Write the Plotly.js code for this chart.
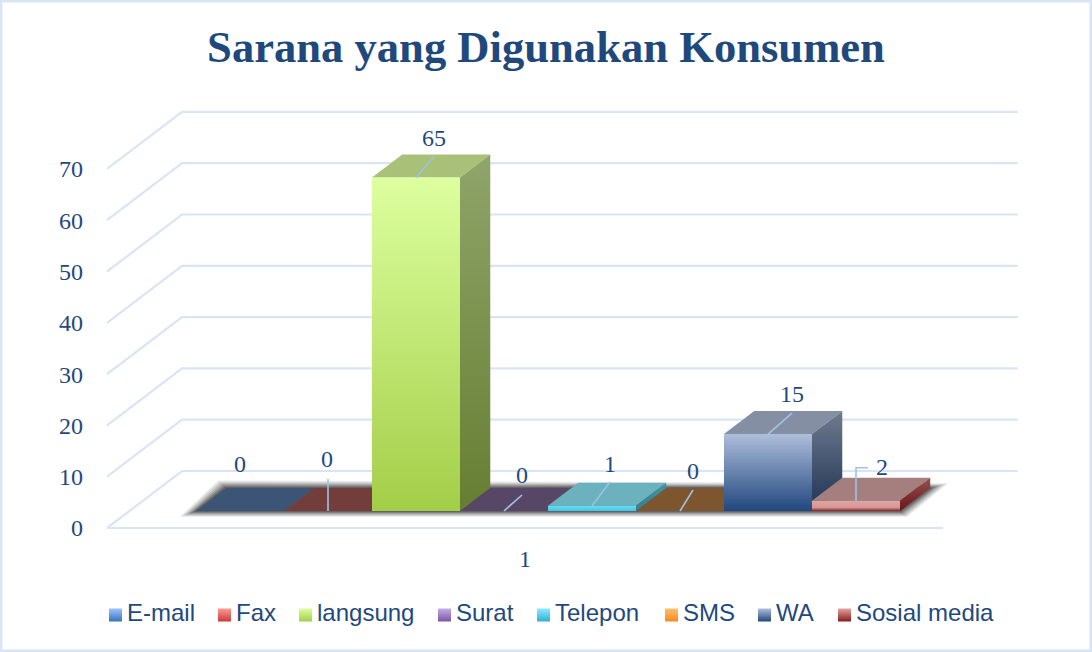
<!DOCTYPE html>
<html><head><meta charset="utf-8">
<script src="https://cdn.plot.ly/plotly-3.0.1.min.js"></script>
<style>html,body{margin:0;padding:0;background:#fff}#c{width:1092px;height:652px}</style>
</head><body><div id="c"></div>
<script>
// ---- data ----
const titleText = 'Sarana yang Digunakan Konsumen';
const categories = ['E-mail','Fax','langsung','Surat','Telepon','SMS','WA','Sosial media'];
const values = [0,0,65,0,1,0,15,2];
const yTicks = [0,10,20,30,40,50,60,70];
const xTickLabels = ['1'];
// ---- styles ----
const frontTop  = ['#8DB3F0','#F59A96','#DDFF9F','#C5AEE6','#66DDF5','#FFC070','#AEBEDB','#E0A5A3'];
const frontMid  = [null,null,null,null,null,null,null,'#D49A98'];
const frontBot  = ['#3A72B8','#C93B38','#A3CE48','#7A55A6','#45C4E4','#F58A1F','#21477F','#8C1F1F'];
const sideTop   = ['#3C5476','#733D3C','#8FA56A','#574666','#3F95A5','#7D5630','#6F7B8E','#94504F'];
const sideBot   = ['#2A3F5F','#5A2A2A','#667E32','#43345A','#348090','#6A4520','#1F3355','#6A1518'];
const topColor  = ['#3C5476','#733D3C','#A9C078','#574666','#6CB2BE','#7D5630','#858FA3','#A47F7E'];
const legendSwatchTop = ['#9DC3FF','#FF9A96','#DDFF9F','#C5AEE6','#8FEBFF','#FFC070','#AEBEDB','#E0A5A3'];
const legendSwatchBot = ['#3A72B8','#C93B38','#A3CE48','#7A55A6','#2FAFD4','#F58A1F','#21477F','#8B1A1A'];
const legendX = [115.5,224.5,305.5,444.5,543.5,671.5,764.5,844.5];
const legendY = 615;
const legendTextGap = 11.5;
const INK = '#1F497D', GRID = '#D9E5F5', LEADER = '#9DC3E6';

// ---- projection ----
const PXU = 5.13, SLOT = 88, DX = 75, DY = 57;
const D_FRONT = 17/57, D_BACK = 40/57;
const X = (s,d) => s + (d-D_FRONT)*DX/SLOT;
const Y = (v,d) => v + d*DY/PXU;
const dxpx = p => p/SLOT, dypx = p => p/PXU;
const traces = [];
const poly = (name,pts,opt) => traces.push(Object.assign({type:'scatter',name,x:pts.map(p=>p[0]),y:pts.map(p=>p[1]),
  mode:'none',fill:'toself',hoverinfo:'skip',showlegend:false,cliponaxis:false},opt));

// walls
const wS = -0.757, wE = 8.74;
yTicks.forEach(v=>{
  traces.push({type:'scatter',mode:'lines',hoverinfo:'skip',showlegend:false,
    x:[X(wS,0),X(wS,1),X(wE,1)],y:[Y(v,0),Y(v,1),Y(v,1)],line:{color:GRID,width:2.2}});
});
traces.push({type:'scatter',mode:'lines',hoverinfo:'skip',showlegend:false,
    x:[X(wS,0),X(wE,0)],y:[0,0],line:{color:GRID,width:2.2}});

// floor shadow
const n = categories.length;
[[9,.1],[7.5,.12],[6,.15],[4.5,.2],[3,.28],[1.5,.36]].forEach(([g,a])=>{
  const e = dxpx(g), f = dypx(g*0.65);
  poly('shadow',[
    [X(0,D_FRONT)-e*1.8,Y(0,D_FRONT)-f],
    [X(n,D_FRONT)+e*.8,Y(0,D_FRONT)-f],
    [X(n,D_BACK)+e*2,Y(0,D_BACK)+f*.8],
    [X(0,D_BACK)-e*.9,Y(0,D_BACK)+f*1.3]
  ],{fillcolor:`rgba(50,50,50,${a})`});
});

// bars, left to right
categories.forEach((c,i)=>{
  const v = values[i], a=i, b=i+1, f=D_FRONT, k=D_BACK;
  poly(c+' top',[[X(a,f),Y(v,f)],[X(b,f),Y(v,f)],[X(b,k),Y(v,k)],[X(a,k),Y(v,k)]],{fillcolor:topColor[i]});
  if(v>0){
    poly(c+' side',[[X(b,f),Y(0,f)],[X(b,k),Y(0,k)],[X(b,k),Y(v,k)],[X(b,f),Y(v,f)]],
      {fillgradient:{type:'vertical',colorscale:[[0,sideBot[i]],[1,sideTop[i]]]}});
    const scale = frontMid[i] ? [[0,frontBot[i]],[0.35,frontMid[i]],[1,frontTop[i]]] : [[0,frontBot[i]],[1,frontTop[i]]];
    poly(c,[[X(a,f),Y(0,f)],[X(b,f),Y(0,f)],[X(b,f),Y(v,f)],[X(a,f),Y(v,f)]],
      {fillgradient:{type:'vertical',colorscale:scale}});
  }
});

// leaders (start on bar's front top, centre of the bar; offsets in px)
const leaders = [null,[[0,0],[0,32]],[[0,0],[18,21]],[[0,0],[18,16]],[[0,0],[18,24]],[[0,0],[13,21]],[[0,0],[24,21]],[[0,0],[0,33],[12,33]]];
categories.forEach((c,i)=>{
  if(!leaders[i]) return;
  const cx = i+.5, cy = Y(values[i],D_FRONT);
  traces.push({type:'scatter',mode:'lines',hoverinfo:'skip',showlegend:false,
    x:leaders[i].map(p=>cx+dxpx(p[0])),y:leaders[i].map(p=>cy+dypx(p[1])),line:{color:LEADER,width:1.6}});
});
// value labels
const labelOff = [[0,45],[-1,50],[18,38],[18,34],[18,40],[13,38],[24,38],[26,32]];
traces.push({type:'scatter',mode:'text',hoverinfo:'skip',showlegend:false,cliponaxis:false,
  x:categories.map((c,i)=>i+.5+dxpx(labelOff[i][0])),
  y:categories.map((c,i)=>Y(values[i],D_FRONT)+dypx(labelOff[i][1])),
  text:values.map(String),textposition:'middle center',
  textfont:{family:'"Liberation Serif",serif',size:24,color:INK}});

// legend row
categories.forEach((c,i)=>{
  traces.push({type:'scatter',xaxis:'x2',yaxis:'y2',mode:'markers',name:c,showlegend:false,hoverinfo:'skip',
    x:[legendX[i]],y:[legendY],
    marker:{symbol:'square',size:13,color:legendSwatchTop[i],line:{width:0},
      gradient:{type:'vertical',color:legendSwatchBot[i]}}});
});
traces.push({type:'scatter',xaxis:'x2',yaxis:'y2',mode:'text',name:'legend labels',showlegend:false,hoverinfo:'skip',
  x:legendX.map(v=>v+legendTextGap),y:legendX.map(()=>legendY),text:categories,textposition:'middle right',
  textfont:{family:'"Liberation Sans",Arial,sans-serif',size:24,color:INK}});

const L=84,R=1040,T=100,B=542,W=1092,H=652;
const layout = {
  width:W,height:H,paper_bgcolor:'#fff',plot_bgcolor:'rgba(0,0,0,0)',showlegend:false,
  margin:{l:0,r:0,t:0,b:0,autoexpand:false},
  title:{text:'<b>'+titleText+'</b>',x:546/W,xanchor:'center',y:1-46/H,yanchor:'middle',
    font:{family:'"Liberation Serif",serif',size:44.6,color:INK}},
  xaxis:{domain:[L/W,R/W],anchor:'y',range:[(L-196)/SLOT,(R-196)/SLOT],showgrid:false,zeroline:false,showline:false,ticklen:0,
    tickmode:'array',tickvals:[3.74],ticktext:xTickLabels,
    tickfont:{family:'"Liberation Serif",serif',size:24,color:INK}},
  yaxis:{domain:[1-B/H,1-T/H],anchor:'x',range:[(528-B)/PXU,(528-T)/PXU],showgrid:false,zeroline:false,showline:false,ticklen:0,
    tickmode:'array',tickvals:yTicks,ticktext:yTicks.map(String),
    tickfont:{family:'"Liberation Serif",serif',size:24,color:INK}},
  xaxis2:{domain:[0,1],range:[0,W],visible:false,anchor:'y2',fixedrange:true},
  yaxis2:{domain:[0,1],range:[H,0],visible:false,anchor:'x2',fixedrange:true},
  shapes:[{type:'rect',xref:'paper',yref:'paper',x0:0,x1:1,y0:0,y1:1,
    line:{color:GRID,width:5},fillcolor:'rgba(0,0,0,0)',layer:'above'}]
};
Plotly.newPlot('c',traces,layout,{displayModeBar:false,staticPlot:true});
</script></body></html>
